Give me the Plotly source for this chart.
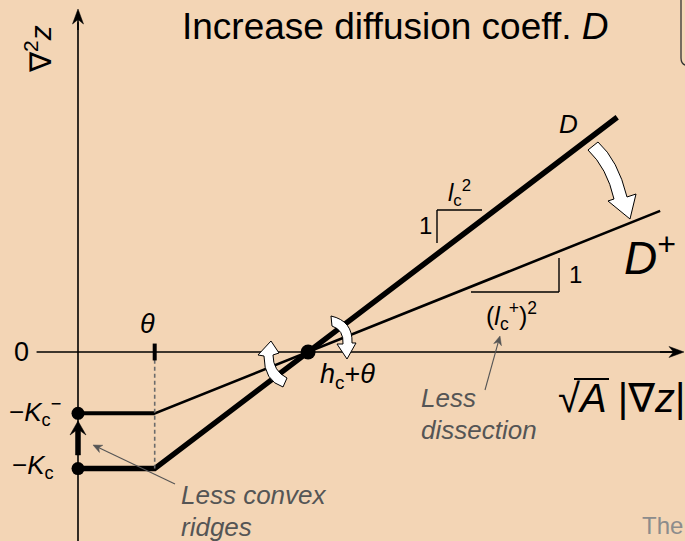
import math
import plotly.graph_objects as go

# ---- model quantities (diagram units) ----
theta = 1.0                 # threshold on sqrt(A)|grad z|
hc_plus_theta = 3.0         # pivot where both curves cross zero
kappa_c = -1.52             # ridge-top curvature, original D
kappa_c_minus = -0.80       # ridge-top curvature, increased D

# piecewise-linear relations: flat below theta, linear above
x_D = [0.0, 1.0, 7.03]
y_D = [-1.52, -1.52, 3.06]
x_Dp = [0.0, 1.0, 7.59]
y_Dp = [-0.80, -0.80, 1.84]

W, H = 685, 541
U = 76.7                    # pixels per diagram unit
X0, Y0 = 78, 352            # where the axes cross

BG = "#F3D5B5"
FONT = "Liberation Sans, Arial, DejaVu Sans"
GREY = "#555555"


def P(x, y):
    """page pixel -> paper fraction"""
    return x / W, 1 - y / H


def path(cmds):
    out = []
    for c in cmds:
        if isinstance(c, str):
            out.append(c)
        else:
            px, py = P(*c)
            out.append(f"{px:.5f},{py:.5f}")
    return " ".join(out)


fig = go.Figure()

# curve for original D (thick)
fig.add_trace(go.Scatter(x=x_D, y=y_D, mode="lines",
                         line=dict(color="black", width=5.5), hoverinfo="skip"))
# curve for increased D (thin sloped part, heavier flat part)
fig.add_trace(go.Scatter(x=x_Dp, y=y_Dp, mode="lines",
                         line=dict(color="black", width=2.6), hoverinfo="skip"))
fig.add_trace(go.Scatter(x=x_Dp[:2], y=y_Dp[:2], mode="lines",
                         line=dict(color="black", width=4), hoverinfo="skip"))

# dashed guide at theta
fig.add_trace(go.Scatter(x=[theta, theta], y=[-0.1, kappa_c], mode="lines",
                         line=dict(color="#6b6b6b", width=1.6, dash="4px,3px"),
                         hoverinfo="skip"))

# axes
fig.add_trace(go.Scatter(x=[-0.54, 7.8], y=[0, 0], mode="lines",
                         line=dict(color="black", width=1.6), hoverinfo="skip"))
fig.add_trace(go.Scatter(x=[0, 0], y=[-2.5, 4.3], mode="lines",
                         line=dict(color="black", width=1.6), hoverinfo="skip"))

# theta tick
fig.add_trace(go.Scatter(x=[theta, theta], y=[-0.11, 0.11], mode="lines",
                         line=dict(color="black", width=4), hoverinfo="skip"))

# curvature levels and pivot
fig.add_trace(go.Scatter(x=[0, 0], y=[kappa_c_minus, kappa_c], mode="markers",
                         marker=dict(color="black", size=13), hoverinfo="skip"))
fig.add_trace(go.Scatter(x=[hc_plus_theta], y=[0], mode="markers",
                         marker=dict(color="black", size=15), hoverinfo="skip"))

ann = []
shapes = []


def label(text, x, y, size, color="black", xanchor="center", angle=0):
    px, py = P(x, y)
    ann.append(dict(x=px, y=py, xref="paper", yref="paper", text=text,
                    showarrow=False, xanchor=xanchor, yanchor="middle",
                    textangle=angle,
                    font=dict(family=FONT, size=size, color=color)))


def seg(a, b, width=1.4, color="black"):
    (x0, y0), (x1, y1) = P(*a), P(*b)
    shapes.append(dict(type="line", xref="paper", yref="paper",
                       x0=x0, y0=y0, x1=x1, y1=y1,
                       line=dict(color=color, width=width)))


def poly(cmds, fill, line_color=None, width=1):
    shapes.append(dict(type="path", xref="paper", yref="paper", path=path(cmds),
                       fillcolor=fill,
                       line=dict(color=line_color or fill, width=width)))


def pointer(tail, tip, color, length=9, half=4, width=1.1):
    """straight line ending in a notched arrowhead"""
    dx, dy = tip[0] - tail[0], tip[1] - tail[1]
    n = math.hypot(dx, dy)
    ux, uy = dx / n, dy / n
    bx, by = tip[0] - ux * length, tip[1] - uy * length
    seg(tail, (tip[0] - ux * length * 0.6, tip[1] - uy * length * 0.6), width, color)
    poly(["M", tip, "L", (bx - uy * half, by + ux * half),
          "L", (tip[0] - ux * length * 0.7, tip[1] - uy * length * 0.7),
          "L", (bx + uy * half, by - ux * half), "Z"], color, color, 0.5)


# arrowheads of the axes
pointer((X0, 30), (X0, 9), "black", 15, 5.5, 1.6)
pointer((660, Y0), (684, Y0), "black", 15, 5.5, 1.6)
# pointers from the notes
pointer((485, 390), (500, 336), GREY, 9, 4)
pointer((175, 484), (93, 445), GREY, 9, 4)

# kappa shift arrow
poly(["M", (75.5, 455), "L", (75.5, 431), "L", (70, 435), "L", (78, 421),
      "L", (86, 435), "L", (80.5, 431), "L", (80.5, 455), "Z"], "black", "black", 0.5)

label("Increase diffusion coeff. <i>D</i>", 180, 27, 37, xanchor="left")
label("∇<sup>2</sup><i>z</i>", 38, 49, 30, angle=-90)
label("0", 21, 352, 27)
label("<i>θ</i>", 147, 324, 27)
label("−<i>K</i><sub>c</sub><sup>−</sup>", 35, 412, 26)
label("−<i>K</i><sub>c</sub>", 33, 466, 26)
label("<i>h</i><sub>c</sub>+<i>θ</i>", 347, 376, 27)
label("<i>D</i>", 568, 124, 26)
label("<i>D</i><sup>+</sup>", 650, 255, 46)
label("1", 425, 226, 24)
label("<i>l</i><sub>c</sub><sup>2</sup>", 460, 193, 24)
label("1", 575, 274, 24)
label("(<i>l</i><sub>c</sub><sup>+</sup>)<sup>2</sup>", 512, 316, 25)
label("<i>Less</i>", 419, 398, 26, GREY, "left")
label("<i>dissection</i>", 419, 430, 26, GREY, "left")
label("<i>Less convex</i>", 179, 495, 26, GREY, "left")
label("<i>ridges</i>", 179, 527, 26, GREY, "left")
label("√<i>A</i> |∇<i>z</i>|", 556, 398, 40, xanchor="left")
label("The", 640, 525, 24, "#8c8c8c", "left")

# slope triangles
seg((437, 243), (437, 210))
seg((437, 210), (482, 210))
seg((471, 292), (559, 292))
seg((559, 292), (559, 258))
# radical overline
seg((574, 379), (609, 379), 2.2)

# box edge at top right
shapes.append(dict(type="path", xref="paper", yref="paper",
                   path=path(["M", (681, 0), "L", (681, 58), "Q", (681, 66), (690, 66)]),
                   line=dict(color="#333333", width=1.3)))

white_arrows = [
    # D -> D+ rotation
    ["M", (588, 150), "Q", (607, 168), (614, 199), "L", (608, 201), "L", (630, 219),
     "L", (636, 194), "L", (627, 197), "Q", (618, 160), (598, 142), "Z"],
    # left pivot arrow (pointing up)
    ["M", (283, 387), "Q", (264, 381), (264, 356), "L", (258, 355), "L", (271, 341),
     "L", (279, 353), "L", (273, 355), "Q", (273, 371), (287, 378), "Z"],
    # right pivot arrow (pointing down)
    ["M", (331, 316), "Q", (353, 321), (352, 343), "L", (356, 343), "L", (347, 359),
     "L", (337, 344), "L", (343, 344), "Q", (344, 330), (332, 326), "Z"],
]
for cmds in white_arrows:
    poly(cmds, "white", "black", 1)

fig.update_layout(
    width=W, height=H,
    margin=dict(l=0, r=0, t=0, b=0),
    paper_bgcolor=BG, plot_bgcolor=BG,
    showlegend=False,
    xaxis=dict(range=[-X0 / U, (W - X0) / U], visible=False, fixedrange=True),
    yaxis=dict(range=[(Y0 - H) / U, Y0 / U], visible=False, fixedrange=True),
    annotations=ann, shapes=shapes,
)

fig.write_html("out.html", config={"displayModeBar": False})
